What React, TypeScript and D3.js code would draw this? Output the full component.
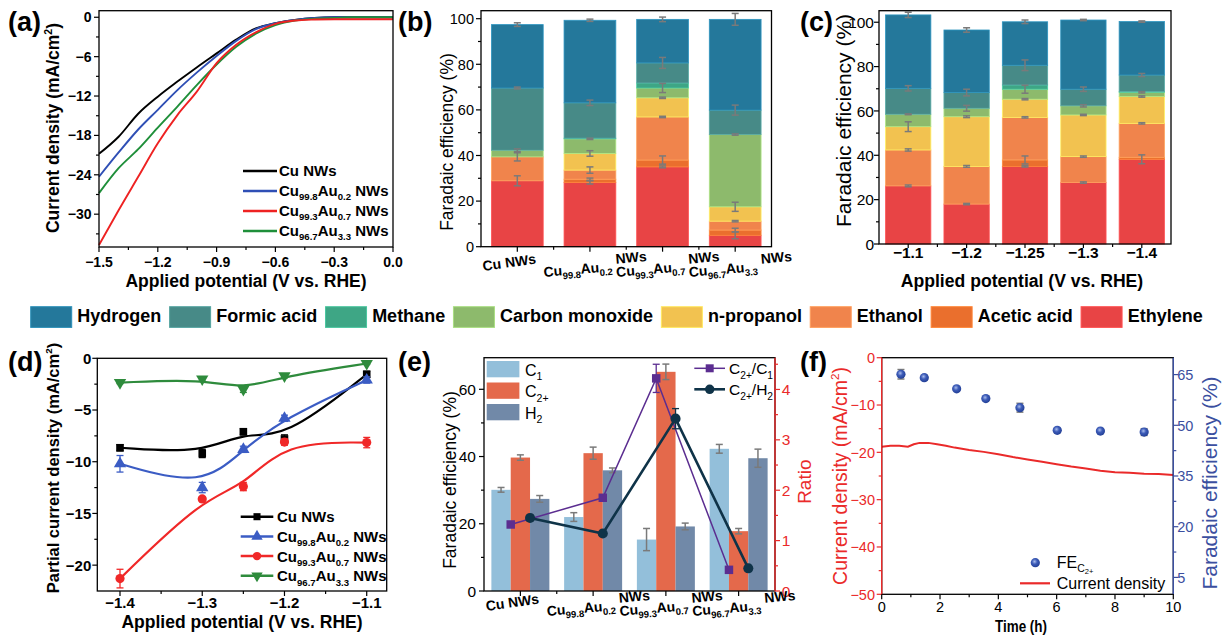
import React from 'react';
import * as d3 from 'd3';

const FONT = "Arial, 'Liberation Sans', Helvetica, sans-serif";
const ERR = '#7a7a7a';

// (a) LSV curves
const lsvPotential = [-1.5, -1.4, -1.3, -1.2, -1.1, -1.0, -0.9, -0.8, -0.7, -0.6, -0.5, -0.4, -0.3, -0.2, -0.1, 0];
const lsvCu = [-20.8, -18.2, -14.7, -12.1, -9.8, -7.6, -5.5, -3.4, -1.7, -0.9, -0.4, -0.1, 0, 0, 0, 0];
const lsvCu998 = [-24.3, -20.6, -17.1, -14.1, -11.1, -8.4, -5.9, -3.6, -1.8, -0.9, -0.4, -0.1, 0, 0, 0, 0];
const lsvCu993 = [-34.7, -29.4, -24.3, -19.2, -14.9, -11.3, -7.0, -4.2, -2.3, -1.0, -0.5, -0.35, -0.3, -0.3, -0.3, -0.3];
const lsvCu967 = [-26.8, -23.0, -20.1, -16.8, -13.6, -10.3, -7.2, -4.5, -2.5, -1.2, -0.5, -0.2, -0.1, 0, 0, 0];

const catalysts = ['Cu NWs', 'Cu99.8Au0.2 NWs', 'Cu99.3Au0.7 NWs', 'Cu96.7Au3.3 NWs'];
const lsvColors = ['#000000', '#2f4fb5', '#ee2222', '#1f8f3a'];
const dColors = ['#000000', '#3b5cc4', '#f02828', '#2e8b3c'];

// products, legend order (top of stack first)
const products = ['Hydrogen', 'Formic acid', 'Methane', 'Carbon monoxide', 'n-propanol', 'Ethanol', 'Acetic acid', 'Ethylene'];
const productColors = ['#24789b', '#478a87', '#3ea685', '#8dba6c', '#f2c250', '#f0844c', '#ea6f2d', '#e84445'];
const stackOrder = products.slice().reverse();

// (b) FE of each catalyst
const bEthylene = [28.9, 28.2, 35.0, 5.0];
const bAcetic = [0, 1.4, 3.0, 2.3];
const bEthanol = [10.5, 4.0, 18.9, 3.9];
const bPropanol = [0, 7.3, 8.4, 6.3];
const bCO = [2.9, 6.4, 4.3, 31.7];
const bMethane = [0, 0.3, 2.2, 0];
const bFormic = [27.3, 15.5, 8.8, 10.7];
const bHydrogen = [27.8, 36.2, 19.1, 39.8];
const bEthyleneErr = [2.2, 0.7, 0.4, 1.5];
const bAceticErr = [0, 0.5, 1.8, 0.8];
const bEthanolErr = [1.8, 1.4, 0.3, 0.3];
const bPropanolErr = [0, 1.2, 0.3, 2.0];
const bCOErr = [0.6, 0.3, 2.0, 0.3];
const bMethaneErr = [0, 0, 0, 0];
const bFormicErr = [0.4, 1.2, 2.4, 2.2];
const bHydrogenErr = [0.8, 0.5, 1.0, 2.6];

// (c) FE of Cu99.3Au0.7 vs potential
const potentials = ['−1.1', '−1.2', '−1.25', '−1.3', '−1.4'];
const cEthylene = [26.2, 18.0, 35.0, 27.7, 38.2];
const cAcetic = [0, 0, 2.9, 0, 0.9];
const cEthanol = [16.2, 17.0, 19.2, 11.7, 15.3];
const cPropanol = [10.5, 22.4, 8.2, 18.8, 12.1];
const cCO = [5.6, 3.8, 4.5, 4.1, 1.9];
const cMethane = [0, 0, 1.9, 0, 0.4];
const cFormic = [11.7, 7.1, 8.9, 7.5, 7.4];
const cHydrogen = [33.1, 28.2, 19.6, 31.2, 24.1];
const cEthyleneErr = [0.4, 0.3, 0.3, 0.3, 2.0];
const cAceticErr = [0, 0, 1.8, 0, 0];
const cEthanolErr = [0.5, 0.4, 0.3, 0.3, 0.3];
const cPropanolErr = [2.2, 0.4, 0.3, 0.3, 0.3];
const cCOErr = [0.2, 1.3, 1.8, 0.5, 0.3];
const cMethaneErr = [0, 0, 0, 0, 0];
const cFormicErr = [1.2, 1.5, 2.4, 1.0, 0.7];
const cHydrogenErr = [1.2, 1.0, 0.8, 0.3, 0.3];

// (d) partial current density
const dPotential = [-1.4, -1.3, -1.25, -1.2, -1.1];
const dCu = [-8.65, -9.2, -7.1, -7.8, -1.55];
const dCu998 = [-10.2, -12.5, -8.8, -5.8, -2.1];
const dCu993 = [-21.3, -13.6, -12.4, -8.1, -8.15];
const dCu967 = [-2.35, -2.0, -3.0, -1.7, -0.5];
const dCuErr = [0.3, 0.4, 0.3, 0.4, 0.3];
const dCu998Err = [0.8, 0.5, 0.3, 0.3, 0.3];
const dCu993Err = [0.9, 0.2, 0.4, 0.3, 0.5];
const dCu967Err = [0.1, 0.2, 0.3, 0.2, 0.1];

// (e) C1 / C2+ / H2 FE and ratios
const eGroups = ['C1', 'C2+', 'H2'];
const eC1 = [30.1, 22.0, 15.3, 42.3];
const eC2 = [39.7, 41.0, 65.2, 17.8];
const eH2 = [27.4, 35.9, 19.2, 39.5];
const eC1Err = [0.7, 1.3, 3.3, 1.3];
const eC2Err = [0.8, 1.8, 2.3, 0.8];
const eH2Err = [1.0, 0.7, 1.0, 2.7];
const eRatioC2C1 = [1.32, 1.85, 4.22, 0.42];
const eRatioC2C1Err = [0, 0, 0.28, 0];
const eRatioC2H2 = [1.45, 1.14, 3.42, 0.45];
const eRatioC2H2Err = [0, 0, 0.2, 0];
const eC2C1Slot = [1, 2, 1, 1];
const eC2H2Slot = [2, 2, 2, 2];
const eColors = ['#93bfda', '#e4694b', '#7189a8'];

// (f) stability
const fTime = [0, 0.3, 0.6, 0.9, 1.1, 1.3, 1.6, 1.9, 2.2, 2.5, 3.0, 3.5, 4.0, 4.5, 5.0, 5.5, 6.0, 6.5, 7.0, 7.5, 8.0, 8.5, 9.0, 9.5, 10.0];
const fCurrent = [-18.8, -18.6, -18.6, -18.8, -18.3, -18.0, -18.0, -18.3, -18.6, -19.0, -19.5, -19.9, -20.4, -21.0, -21.5, -22.0, -22.5, -23.0, -23.4, -23.9, -24.2, -24.3, -24.5, -24.6, -24.8];
const fFETime = [0.66, 1.46, 2.57, 3.57, 4.74, 6.02, 7.5, 9.0];
const fFE = [65.1, 64.1, 60.8, 57.9, 55.2, 48.5, 48.3, 48.0];
const fFEErr = [1.4, 0.7, 0.3, 0.3, 1.3, 0.6, 0.4, 1.0];

function measure(s: string, font: string) {
  const ctx = document.createElement('canvas').getContext('2d');
  if (!ctx) return s.length * 10;
  ctx.font = font;
  return ctx.measureText(s).width;
}

function Frame({ x0, x1, y0, y1 }: any) {
  return <rect x={x0} y={y0} width={x1 - x0} height={y1 - y0} fill="none" stroke="#000" strokeWidth={1.3} />;
}

function Axis({ orient, scale, at, major, minor = [], fmt, color = '#000', size = 14, bold = false, gap = 7, len = 5, mlen = 3, line }: any) {
  const dir = orient === 'left' ? -1 : 1;
  const vert = orient !== 'bottom';
  const els: any[] = [];
  major.forEach((v: number, i: number) => {
    const p = scale(v);
    els.push(vert
      ? <line key={'M' + i} x1={at} x2={at + dir * len} y1={p} y2={p} />
      : <line key={'M' + i} x1={p} x2={p} y1={at} y2={at + len} />);
    if (fmt) {
      const t = fmt(v, i);
      els.push(vert
        ? <text key={'L' + i} x={at + dir * gap} y={p} dy="0.36em" textAnchor={orient === 'left' ? 'end' : 'start'} stroke="none" fill={color}>{t}</text>
        : <text key={'L' + i} x={p} y={at + gap} textAnchor="middle" stroke="none" fill={color}>{t}</text>);
    }
  });
  minor.forEach((v: number, i: number) => {
    const p = scale(v);
    els.push(vert
      ? <line key={'m' + i} x1={at} x2={at + dir * mlen} y1={p} y2={p} />
      : <line key={'m' + i} x1={p} x2={p} y1={at} y2={at + mlen} />);
  });
  return (
    <g stroke={color} strokeWidth={1.2} fontSize={size} fontWeight={bold ? 'bold' : 'normal'}>
      {line && (vert ? <line x1={at} x2={at} y1={line[0]} y2={line[1]} strokeWidth={1.4} /> : <line x1={line[0]} x2={line[1]} y1={at} y2={at} strokeWidth={1.4} />)}
      {els}
    </g>
  );
}

function ErrBar({ x, y0, y1, color = ERR, w = 3.5, sw = 1.5 }: any) {
  return (
    <g stroke={color} strokeWidth={sw}>
      <line x1={x} x2={x} y1={y0} y2={y1} />
      <line x1={x - w} x2={x + w} y1={y0} y2={y0} />
      <line x1={x - w} x2={x + w} y1={y1} y2={y1} />
    </g>
  );
}

function Sup({ size, children }: any) {
  return (
    <>
      <tspan fontSize={size * 0.6} dy={-size * 0.42}>{children}</tspan>
      <tspan dy={size * 0.42}>)</tspan>
    </>
  );
}

function VLabel({ x, y, size, bold = false, color = '#000', children }: any) {
  return (
    <text transform={`translate(${x},${y}) rotate(-90)`} textAnchor="middle" fontSize={size} fontWeight={bold ? 'bold' : 'normal'} fill={color}>
      {children}
    </text>
  );
}

function CatalystText({ name, x, y, size, bold = true, rotate = 0, rise = 0, subScale = 0.64, anchor = 'start' }: any) {
  const m = name.match(/^Cu([\d.]+)Au([\d.]+) (.*)$/);
  const sub = size * subScale;
  const sh = size * 0.28;
  return (
    <text transform={`translate(${x},${y}) rotate(${rotate})`} fontSize={size} fontWeight={bold ? 'bold' : 'normal'} textAnchor={anchor}>
      {m ? (
        <>
          Cu<tspan fontSize={sub} dy={sh}>{m[1]}</tspan>
          <tspan dy={-sh}>Au</tspan>
          <tspan fontSize={sub} dy={sh}>{m[2]}</tspan>
          <tspan dy={-sh - rise}>{' ' + m[3]}</tspan>
        </>
      ) : name}
    </text>
  );
}

function PanelLetter({ x, y, s }: any) {
  return <text x={x} y={y} fontSize={27} fontWeight="bold">{s}</text>;
}

function PanelA() {
  const x = d3.scaleLinear().domain([-1.5, 0]).range([99, 393]);
  const y = d3.scaleLinear().domain([-35, 1]).range([247, 10.7]);
  const curves = [lsvCu, lsvCu998, lsvCu967, lsvCu993];
  const colors = [lsvColors[0], lsvColors[1], lsvColors[3], lsvColors[2]];
  const line = d3.line<number>().x((_, i) => x(lsvPotential[i])).y((v) => y(v)).curve(d3.curveMonotoneX);
  return (
    <g>
      {curves.map((c, k) => <path key={k} d={line(c) as string} fill="none" stroke={colors[k]} strokeWidth={1.9} />)}
      <Frame x0={99} x1={393} y0={10.7} y1={247} />
      <Axis orient="left" scale={y} at={99} major={d3.range(0, -31, -6)} minor={d3.range(-3, -35, -6)} fmt={d3.format('d')} size={14} bold gap={7.5} />
      <Axis orient="bottom" scale={x} at={247} major={d3.range(-1.5, 0.01, 0.3)} minor={d3.range(-1.35, 0, 0.3)} fmt={d3.format('.1f')} size={14} bold gap={19.7} />
      {catalysts.map((c, i) => {
        const ly = 171 + i * 20;
        return (
          <g key={c}>
            <line x1={243} x2={277} y1={ly} y2={ly} stroke={lsvColors[i]} strokeWidth={2.5} />
            <CatalystText name={c} x={279} y={ly + 5} size={15} />
          </g>
        );
      })}
      <text x={246} y={287} textAnchor="middle" fontSize={17.5} fontWeight="bold">Applied potential (V vs. RHE)</text>
      <VLabel x={59} y={128} size={17.5} bold>Current density (mA/cm<Sup size={17.5}>2</Sup></VLabel>
      <PanelLetter x={8} y={31} s="(a)" />
    </g>
  );
}

function StackBars({ cats, series, errs, x, y }: any) {
  const table = cats.map((c: string, i: number) => {
    const o: any = { cat: c };
    stackOrder.forEach((k, j) => (o[k] = series[j][i]));
    return o;
  });
  const stacked = d3.stack().keys(stackOrder)(table);
  const colorOf = (k: string) => productColors[products.indexOf(k)];
  return (
    <g>
      {stacked.map((layer) => layer.map((seg, i) => {
        const h = y(seg[0]) - y(seg[1]);
        if (h <= 0.01) return null;
        const col = colorOf(layer.key);
        return (
          <rect key={layer.key + i} x={x(cats[i])} y={y(seg[1])} width={x.bandwidth()} height={h}
            fill={col} stroke={(d3.color(col) as any).brighter(0.6).formatHex()} strokeWidth={0.8} />
        );
      }))}
      {stacked.map((layer, j) => layer.map((seg, i) => {
        const e = errs[j][i];
        if (!e || series[j][i] === 0) return null;
        const cx = x(cats[i]) + x.bandwidth() / 2;
        return <ErrBar key={'e' + layer.key + i} x={cx} y0={y(seg[1] + e)} y1={y(seg[1] - e)} />;
      }))}
    </g>
  );
}

function PanelB() {
  const x = d3.scaleBand().domain(catalysts).range([481, 771.5]).paddingInner(0.287).paddingOuter(0.1435);
  const y = d3.scaleLinear().domain([0, 103.5]).range([246.7, 10.7]);
  const series = [bEthylene, bAcetic, bEthanol, bPropanol, bCO, bMethane, bFormic, bHydrogen];
  const errs = [bEthyleneErr, bAceticErr, bEthanolErr, bPropanolErr, bCOErr, bMethaneErr, bFormicErr, bHydrogenErr];
  const centers = catalysts.map((c) => (x(c) as number) + x.bandwidth() / 2);
  const mids = centers.slice(1).map((c, i) => (c + centers[i]) / 2);
  return (
    <g>
      <StackBars cats={catalysts} series={series} errs={errs} x={x} y={y} />
      <Frame x0={481} x1={771.5} y0={10.7} y1={246.7} />
      <Axis orient="left" scale={y} at={481} major={d3.range(0, 101, 20)} minor={d3.range(10, 101, 20)} fmt={d3.format('d')} size={14.5} gap={7} />
      <Axis orient="bottom" scale={(v: number) => v} at={246.7} major={centers} minor={mids} />
      {catalysts.map((c, i) => (
        <CatalystText key={c} name={c} x={centers[i] - (i === 0 ? 34 : 46)} y={i === 0 ? 271 : 277} size={14} rotate={i === 0 ? -8 : -5} rise={7} subScale={0.68} />
      ))}
      <VLabel x={452.8} y={142} size={17.5}>Faradaic efficiency (%)</VLabel>
      <PanelLetter x={398} y={31} s="(b)" />
    </g>
  );
}

function PanelC() {
  const x = d3.scaleBand().domain(potentials).range([879, 1171]).paddingInner(0.224).paddingOuter(0.112);
  const y = d3.scaleLinear().domain([0, 105.2]).range([244, 10.7]);
  const series = [cEthylene, cAcetic, cEthanol, cPropanol, cCO, cMethane, cFormic, cHydrogen];
  const errs = [cEthyleneErr, cAceticErr, cEthanolErr, cPropanolErr, cCOErr, cMethaneErr, cFormicErr, cHydrogenErr];
  const centers = potentials.map((c) => (x(c) as number) + x.bandwidth() / 2);
  const mids = centers.slice(1).map((c, i) => (c + centers[i]) / 2);
  return (
    <g>
      <StackBars cats={potentials} series={series} errs={errs} x={x} y={y} />
      <Frame x0={879} x1={1171} y0={10.7} y1={244} />
      <Axis orient="left" scale={y} at={879} major={d3.range(0, 101, 20)} minor={d3.range(10, 101, 20)} fmt={d3.format('d')} size={15.5} gap={5} />
      <Axis orient="bottom" scale={(v: number) => v} at={244} major={centers} minor={mids} fmt={(v: number, i: number) => potentials[i]} size={15.5} bold gap={14.3} len={4} />
      <text x={1022} y={286.7} textAnchor="middle" fontSize={17.6} fontWeight="bold">Applied potential (V vs. RHE)</text>
      <VLabel x={850.6} y={120.5} size={21}>Faradaic efficiency (%)</VLabel>
      <PanelLetter x={800} y={31} s="(c)" />
    </g>
  );
}

function MainLegend() {
  const font = `bold 18px ${FONT}`;
  let cx = 30.7;
  const items = products.map((name, i) => {
    const w = measure(name, font);
    const it = { name, x: cx, color: productColors[i] };
    cx += 41 + 5.6 + w + 8.3;
    return it;
  });
  return (
    <g>
      {items.map((it) => (
        <g key={it.name}>
          <rect x={it.x} y={306.7} width={41} height={20.7} fill={it.color} stroke={(d3.color(it.color) as any).brighter(0.5).formatHex()} strokeWidth={1} />
          <text x={it.x + 46.6} y={321.7} fontSize={18} fontWeight="bold">{it.name}</text>
        </g>
      ))}
    </g>
  );
}

function Marker({ kind, x, y, color, size = 60 }: any) {
  const type = kind === 'square' ? d3.symbolSquare : kind === 'circle' ? d3.symbolCircle : d3.symbolTriangle;
  const d = d3.symbol().type(type).size(size)() as string;
  const rot = kind === 'down' ? 180 : 0;
  return <path d={d} transform={`translate(${x},${y}) rotate(${rot})`} fill={color} />;
}

function PanelD() {
  const x = d3.scaleLinear().domain([-1.4276, -1.0757]).range([97.3, 386.7]);
  const y = d3.scaleLinear().domain([-22.5, 0]).range([591, 358.3]);
  const series = [dCu, dCu998, dCu993, dCu967];
  const errs = [dCuErr, dCu998Err, dCu993Err, dCu967Err];
  const kinds = ['square', 'up', 'circle', 'down'];
  const line = d3.line<number>().x((_, i) => x(dPotential[i])).y((v) => y(v)).curve(d3.curveBasis);
  return (
    <g>
      {series.map((s, k) => (
        <g key={k}>
          <path d={line(s) as string} fill="none" stroke={dColors[k]} strokeWidth={2.2} />
          {s.map((v, i) => (
            <g key={i}>
              <ErrBar x={x(dPotential[i])} y0={y(v + errs[k][i])} y1={y(v - errs[k][i])} color={dColors[k]} w={3.5} sw={1.3} />
              <Marker kind={kinds[k]} x={x(dPotential[i])} y={y(v)} color={dColors[k]} size={kinds[k] === 'square' ? 58 : 66} />
            </g>
          ))}
        </g>
      ))}
      <Frame x0={97.3} x1={386.7} y0={358.3} y1={591} />
      <Axis orient="left" scale={y} at={97.3} major={d3.range(0, -21, -5)} minor={d3.range(-2.5, -22.5, -5)} fmt={d3.format('d')} size={15} bold gap={6} />
      <Axis orient="bottom" scale={x} at={591} major={[-1.4, -1.3, -1.2, -1.1]} minor={[-1.35, -1.25, -1.15]} fmt={d3.format('.1f')} size={15} bold gap={17.3} />
      {catalysts.map((c, i) => {
        const ly = 516.7 + i * 19.7;
        return (
          <g key={c}>
            <line x1={240.7} x2={273.3} y1={ly} y2={ly} stroke={dColors[i]} strokeWidth={2.5} />
            <Marker kind={kinds[i]} x={257} y={ly} color={dColors[i]} size={kinds[i] === 'square' ? 50 : 56} />
            <CatalystText name={c} x={277} y={ly + 5.5} size={15} />
          </g>
        );
      })}
      <text x={242} y={628.3} textAnchor="middle" fontSize={17.5} fontWeight="bold">Applied potential (V vs. RHE)</text>
      <VLabel x={58.5} y={468} size={16.5} bold>Partial current density (mA/cm<Sup size={16.5}>2</Sup></VLabel>
      <PanelLetter x={8} y={371} s="(d)" />
    </g>
  );
}

function SubLabel({ x, y, size, main, sub, tail, subTail, color = '#000' }: any) {
  const s = size * 0.66;
  const sh = size * 0.3;
  return (
    <text x={x} y={y} fontSize={size} fill={color}>
      {main}<tspan fontSize={s} dy={sh}>{sub}</tspan>
      {tail && <tspan dy={-sh}>{tail}</tspan>}
      {subTail && <tspan fontSize={s} dy={sh}>{subTail}</tspan>}
    </text>
  );
}

function PanelE() {
  const x0 = d3.scaleBand().domain(catalysts).range([484, 775]).paddingInner(0.203).paddingOuter(0.1015);
  const x1 = d3.scaleBand().domain(eGroups).range([0, x0.bandwidth()]);
  const y = d3.scaleLinear().domain([0, 69.4]).range([591, 357.7]);
  const yr = d3.scaleLinear().domain([0, 4.63]).range([591, 357.7]);
  const vals = [eC1, eC2, eH2];
  const errs = [eC1Err, eC2Err, eH2Err];
  const centers = catalysts.map((c) => (x0(c) as number) + x0.bandwidth() / 2);
  const mids = centers.slice(1).map((c, i) => (c + centers[i]) / 2);
  const px = (i: number, slot: number) => (x0(catalysts[i]) as number) + x1.step() * slot;
  const lineA = d3.line<number>().x((_, i) => px(i, eC2C1Slot[i])).y((v) => yr(v));
  const lineB = d3.line<number>().x((_, i) => px(i, eC2H2Slot[i])).y((v) => yr(v));
  const red = '#ea2a2a';
  const purple = '#5b2d90';
  const navy = '#0f3348';
  return (
    <g>
      {eGroups.map((g, k) => catalysts.map((c, i) => {
        const bx = (x0(c) as number) + (x1(g) as number);
        const cx = bx + x1.bandwidth() / 2;
        return (
          <g key={g + c}>
            <rect x={bx} y={y(vals[k][i])} width={x1.bandwidth()} height={y(0) - y(vals[k][i])} fill={eColors[k]} />
            <ErrBar x={cx} y0={y(vals[k][i] + errs[k][i])} y1={y(vals[k][i] - errs[k][i])} />
          </g>
        );
      }))}
      <path d={lineA(eRatioC2C1) as string} fill="none" stroke={purple} strokeWidth={1.5} />
      <path d={lineB(eRatioC2H2) as string} fill="none" stroke={navy} strokeWidth={2.6} />
      {eRatioC2C1.map((v, i) => (
        <g key={'a' + i}>
          {eRatioC2C1Err[i] > 0 && <ErrBar x={px(i, eC2C1Slot[i])} y0={yr(v + eRatioC2C1Err[i])} y1={yr(v - eRatioC2C1Err[i])} color={purple} sw={1.3} />}
          <Marker kind="square" x={px(i, eC2C1Slot[i])} y={yr(v)} color={purple} size={72} />
        </g>
      ))}
      {eRatioC2H2.map((v, i) => (
        <g key={'b' + i}>
          {eRatioC2H2Err[i] > 0 && <ErrBar x={px(i, eC2H2Slot[i])} y0={yr(v + eRatioC2H2Err[i])} y1={yr(v - eRatioC2H2Err[i])} color={navy} sw={1.3} />}
          <Marker kind="circle" x={px(i, eC2H2Slot[i])} y={yr(v)} color={navy} size={80} />
        </g>
      ))}
      <Frame x0={484} x1={775} y0={357.7} y1={591} />
      <Axis orient="left" scale={y} at={484} major={[0, 20, 40, 60]} minor={[10, 30, 50]} fmt={d3.format('d')} size={15.5} gap={8} />
      <Axis orient="right" scale={yr} at={775} major={[0, 1, 2, 3, 4]} minor={[0.5, 1.5, 2.5, 3.5, 4.5]} fmt={d3.format('d')} size={15.5} gap={6.7} color={red} line={[357.7, 591]} />
      <Axis orient="bottom" scale={(v: number) => v} at={591} major={centers} minor={mids} />
      {catalysts.map((c, i) => (
        <CatalystText key={c} name={c} x={centers[i] - (i === 0 ? 34 : 46)} y={i === 0 ? 611 : 616} size={14} rotate={i === 0 ? -8 : -5} rise={7} subScale={0.68} />
      ))}
      {eGroups.map((g, k) => (
        <g key={'lg' + g}>
          <rect x={486.7} y={361 + k * 21.5} width={32.7} height={16.3} fill={eColors[k]} />
          <SubLabel x={525} y={375.5 + k * 21.5} size={16} main={g[0]} sub={g.slice(1)} />
        </g>
      ))}
      <line x1={694.3} x2={725} y1={368.3} y2={368.3} stroke={purple} strokeWidth={1.5} />
      <Marker kind="square" x={709.7} y={368.3} color={purple} size={64} />
      <SubLabel x={729} y={374.3} size={15.5} main="C" sub="2+" tail="/C" subTail="1" />
      <line x1={694.3} x2={725} y1={389.3} y2={389.3} stroke={navy} strokeWidth={2.6} />
      <Marker kind="circle" x={709.7} y={389.3} color={navy} size={70} />
      <SubLabel x={729} y={395} size={15.5} main="C" sub="2+" tail="/H" subTail="2" />
      <VLabel x={456} y={480} size={17.5}>Faradaic efficiency (%)</VLabel>
      <VLabel x={811} y={481.7} size={19} color={red}>Ratio</VLabel>
      <PanelLetter x={398} y={371} s="(e)" />
    </g>
  );
}

function PanelF() {
  const x = d3.scaleLinear().domain([0, 10]).range([881.7, 1173.3]);
  const y = d3.scaleLinear().domain([-50, 0]).range([594.3, 357.7]);
  const yr = d3.scaleLinear().domain([0, 70]).range([594.3, 357.7]);
  const red = '#ea2a2a';
  const blue = '#3b4fa0';
  const line = d3.line<number>().x((_, i) => x(fTime[i])).y((v) => y(v));
  return (
    <g>
      <defs>
        <radialGradient id="feGrad" cx="42%" cy="38%" r="62%">
          <stop offset="0" stopColor="#a9bcec" />
          <stop offset="0.45" stopColor="#3d5cb8" />
          <stop offset="1" stopColor="#223f96" />
        </radialGradient>
      </defs>
      <path d={line(fCurrent) as string} fill="none" stroke={red} strokeWidth={2} />
      {fFE.map((v, i) => (
        <g key={i}>
          <ErrBar x={x(fFETime[i])} y0={yr(v + fFEErr[i])} y1={yr(v - fFEErr[i])} />
          <circle cx={x(fFETime[i])} cy={yr(v)} r={4.6} fill="url(#feGrad)" />
        </g>
      ))}
      <Frame x0={881.7} x1={1173.3} y0={357.7} y1={594.3} />
      <Axis orient="left" scale={y} at={881.7} major={d3.range(0, -51, -10)} minor={d3.range(-5, -50, -10)} fmt={d3.format('d')} size={14.5} gap={6.7} color={red} line={[357.7, 594.3]} />
      <Axis orient="right" scale={yr} at={1173.3} major={[5, 20, 35, 50, 65]} minor={[12.5, 27.5, 42.5, 57.5]} fmt={d3.format('d')} size={14.5} gap={4} color={blue} line={[357.7, 594.3]} />
      <Axis orient="bottom" scale={x} at={594.3} major={d3.range(0, 11, 2)} minor={d3.range(1, 10, 2)} fmt={d3.format('d')} size={14.5} gap={17.4} />
      <circle cx={1035.3} cy={562.7} r={4.6} fill="url(#feGrad)" />
      <text x={1056.7} y={568.3} fontSize={16}>FE<tspan fontSize={10.5} dy={4}>C</tspan><tspan fontSize={7.5} dy={2}>2+</tspan></text>
      <line x1={1020} x2={1050} y1={583.3} y2={583.3} stroke={red} strokeWidth={2.2} />
      <text x={1056.7} y={589} fontSize={16}>Current density</text>
      <text x={1021} y={631.7} textAnchor="middle" fontSize={16} fontWeight="bold" textLength={52} lengthAdjust="spacingAndGlyphs">Time (h)</text>
      <VLabel x={847} y={476} size={19.5} color={red}>Current density (mA/cm<Sup size={19.5}>2</Sup></VLabel>
      <VLabel x={1217} y={483} size={21} color={blue}>Faradaic efficiency (%)</VLabel>
      <PanelLetter x={800} y={371} s="(f)" />
    </g>
  );
}

export default function App() {
  return (
    <div style={{ position: 'absolute', left: 0, top: 0 }}>
      <svg width={1222} height={635} style={{ display: 'block', background: '#fff', fontFamily: FONT }}>
        <PanelA />
        <PanelB />
        <PanelC />
        <MainLegend />
        <PanelD />
        <PanelE />
        <PanelF />
      </svg>
    </div>
  );
}
